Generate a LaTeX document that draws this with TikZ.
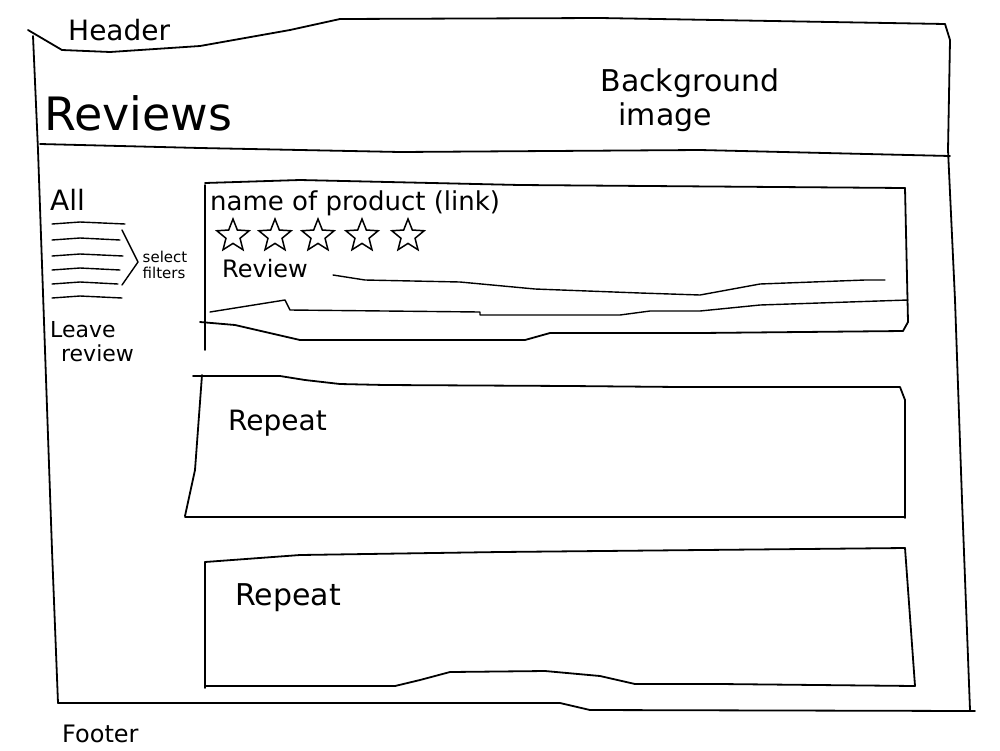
\documentclass[tikz,border=0pt]{standalone}
\usepackage{fontspec}
\setmainfont{DejaVu Sans}
\usetikzlibrary{shapes.geometric}
\begin{document}
\begin{tikzpicture}[x=1pt,y=-1pt,
  pen/.style={draw=black,line width=1.8pt,line cap=round,line join=round},
  thinpen/.style={draw=black,line width=1.4pt,line cap=round,line join=round},
  hand/.style={inner sep=0pt,anchor=base west},
  starmark/.style={star,star points=5,star point ratio=2.3,draw=black,line width=1.5pt,minimum size=34pt,inner sep=0pt}]
\useasboundingbox (0,0) rectangle (1000,750);
\fill[white] (0,0) rectangle (1000,750);

% page frame
\draw[pen] (28,30) -- (62,50) -- (110,52) -- (200,46) -- (290,30) -- (340,19) -- (600,18) -- (945,24);
\draw[pen] (945,24) -- (950,40) -- (948,150) -- (955,300) -- (962,500) -- (970,710);
\draw[pen] (33,36) -- (38,150) -- (45,350) -- (52,550) -- (58,703);
\draw[pen] (58,703) -- (560,703) -- (590,710) -- (975,711);

% header band
\draw[pen] (40,144) -- (200,148) -- (400,152) -- (700,150) -- (950,156);
\node[hand,font=\fontsize{28}{30}\selectfont] (hdr) at (68,40) {Header};
\node[hand,font=\fontsize{46}{50}\selectfont] (title) at (44,130) {Reviews};
\node[align=left,inner sep=0pt,font=\fontsize{30}{34}\selectfont] (bgimg) at (690,100) {Background\\\hspace*{0.6em}image};

% sidebar: filters
\node[hand,font=\fontsize{28}{30}\selectfont] (all) at (50,210) {All};
\foreach \yy/\xa in {224/125,240/120,256/123,270/120,284/118,298/122}
  \draw[thinpen] (52,\yy) -- (80,\yy-2) -- (\xa,\yy);
\draw[thinpen] (122,230) -- (138,262) -- (122,285);
\node[align=left,inner sep=0pt,font=\fontsize{15}{16}\selectfont] (sel) at (165,265) {select\\filters};
\node[align=left,inner sep=0pt,font=\fontsize{22}{24}\selectfont] (leave) at (92,342) {Leave\\\hspace*{0.5em}review};

% first review card
\draw[pen] (205,185) -- (205,350);
\draw[pen] (205,183) -- (300,180) -- (520,185) -- (905,188);
\draw[pen] (905,188) -- (908,322) -- (903,331);
\draw[pen] (200,322) -- (235,325) -- (300,340) -- (525,340) -- (550,333) -- (700,333) -- (903,331);
\node[hand,font=\fontsize{26}{28}\selectfont] (pname) at (210,210) {name of product (link)};
\foreach \i/\xx in {1/233,2/275,3/318,4/362,5/408}
  \node[starmark] (st\i) at (\xx,236) {};
\node[hand,font=\fontsize{24}{26}\selectfont] (rev) at (222,277) {Review};
\draw[thinpen] (333,275) -- (365,280) -- (460,282) -- (535,289) -- (640,293) -- (700,295) -- (760,284) -- (865,280) -- (885,280);
\draw[thinpen] (210,312) -- (285,300) -- (290,310) -- (480,312) -- (480,315) -- (620,315) -- (650,311) -- (700,311) -- (760,305) -- (908,300);

% second review card
\draw[pen] (202,375) -- (195,470) -- (185,516);
\draw[pen] (193,376) -- (280,376) -- (305,380) -- (340,384) -- (385,385) -- (570,386) -- (680,387) -- (900,387) -- (905,400);
\draw[pen] (905,400) -- (905,518);
\draw[pen] (185,517) -- (905,517);
\node[hand,font=\fontsize{28}{30}\selectfont] (rep1) at (228,430) {Repeat};

% third review card
\draw[pen] (205,562) -- (300,555) -- (500,552) -- (905,548);
\draw[pen] (205,562) -- (205,688);
\draw[pen] (905,548) -- (915,686);
\draw[pen] (205,686) -- (395,686) -- (420,680) -- (450,672) -- (545,671) -- (600,676) -- (635,684) -- (720,684) -- (915,686);
\node[hand,font=\fontsize{30}{32}\selectfont] (rep2) at (235,605) {Repeat};

% footer
\node[hand,font=\fontsize{24}{26}\selectfont] (ftr) at (62,742) {Footer};
\end{tikzpicture}
\end{document}
